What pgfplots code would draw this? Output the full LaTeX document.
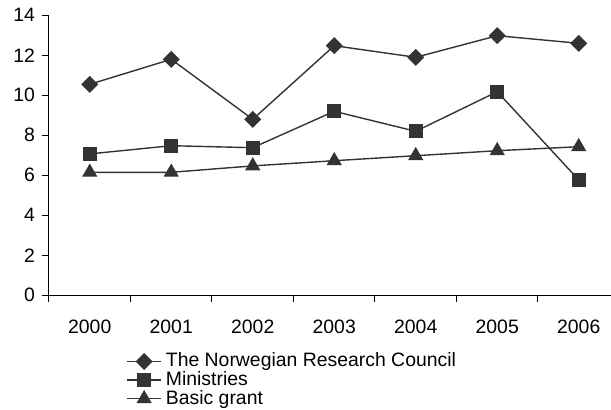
\documentclass[border=0pt]{standalone}
\usepackage{pgfplots}
\pgfplotsset{compat=1.18}
\usepackage{fontspec}
\setmainfont{Liberation Sans}
\definecolor{ln}{HTML}{333333}

\begin{document}
\begin{tikzpicture}
\useasboundingbox (0,0) rectangle (305.5pt,204.5pt);
\begin{axis}[
    at={(24.5pt,56.85pt)}, anchor=south west,
    scale only axis, width=281pt, height=140pt,
    xmin=-0.5, xmax=6.396, ymin=0, ymax=14,
    axis lines*=left,
    axis line style={-, black, line width=0.5pt},
    font=\fontsize{9.7}{11}\selectfont,
    /pgf/number format/assume math mode=true,
    tick align=outside,
    xtick={0,...,6},
    xticklabels={2000,2001,2002,2003,2004,2005,2006},
    major x tick style={draw=none},
    minor xtick={-0.5,0.5,...,5.5},
    minor tick length=3.3pt,
    major tick length=3.5pt,
    ytick={0,2,...,14},
    tick style={black, line width=0.5pt},
    xticklabel style={yshift=-5.5pt},
    legend style={at={(axis description cs:0.137,-0.19)}, anchor=north west,
        draw=none, fill=none, inner sep=0pt, row sep=-3.2pt,
        font=\fontsize{9.7}{11}\selectfont},
    legend cell align=left,
]
\addplot[ln, line width=0.7pt, mark=square*, mark size=2.65pt, mark options={rotate=45}]
    coordinates {(0,10.55) (1,11.8) (2,8.8) (3,12.48) (4,11.9) (5,12.98) (6,12.6)};
\addlegendentry{The Norwegian Research Council}
\addplot[ln, line width=0.7pt, mark=square*, mark size=3.2pt]
    coordinates {(0,7.07) (1,7.48) (2,7.38) (3,9.2) (4,8.2) (5,10.18) (6,5.77)};
\addlegendentry{Ministries}
\addplot[ln, line width=0.7pt, mark=triangle*, mark size=3.7pt]
    coordinates {(0,6.15) (1,6.15) (2,6.47) (3,6.73) (4,6.98) (5,7.23) (6,7.43)};
\addlegendentry{Basic grant}
\end{axis}
\end{tikzpicture}
\end{document}
